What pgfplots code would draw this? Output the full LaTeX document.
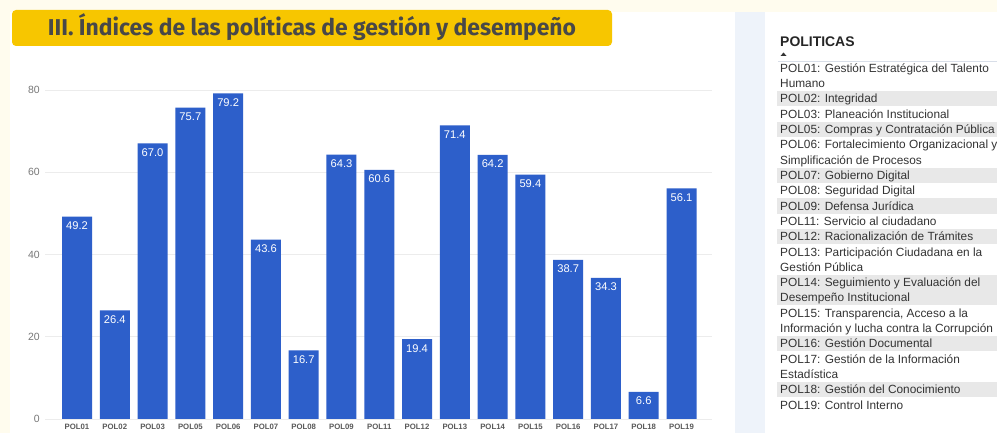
\documentclass[border=0pt]{standalone}
\usepackage{pgfplots}
\pgfplotsset{compat=1.18}
\usepackage{pgfplotstable}
\usepackage{fontspec}
\setmainfont{Liberation Sans}
\newfontfamily\titlefont{Fira Sans}

\definecolor{cream}{HTML}{FFFCEE}
\definecolor{strip}{HTML}{EEF3FA}
\definecolor{banner}{HTML}{F7C600}
\definecolor{titlegray}{HTML}{484848}
\definecolor{barblue}{HTML}{2D5FCA}
\definecolor{gridgray}{HTML}{ECECEC}
\definecolor{rowgray}{HTML}{E8E8E8}
\definecolor{tabtext}{HTML}{333333}
\definecolor{xlab}{HTML}{5A5A5A}
\definecolor{ylab}{HTML}{777777}
\definecolor{headline}{HTML}{D8DEE8}

% indices by policy
\pgfplotstableread{
idx pol val
0 POL01 49.2
1 POL02 26.4
2 POL03 67.0
3 POL05 75.7
4 POL06 79.2
5 POL07 43.6
6 POL08 16.7
7 POL09 64.3
8 POL11 60.6
9 POL12 19.4
10 POL13 71.4
11 POL14 64.2
12 POL15 59.4
13 POL16 38.7
14 POL17 34.3
15 POL18 6.6
16 POL19 56.1
}\poldata

\begin{document}
\begin{tikzpicture}
\begin{scope}[x=1bp,y=-1bp,shift={(0bp,433bp)}]
  % panels
  \fill[cream] (0,0) rectangle (997,433);
  \fill[white] (10,12) rectangle (735,433);
  \fill[strip] (735,12) rectangle (765,433);
  \fill[white] (765,12) rectangle (997,433);
  % title banner
  \fill[banner, rounded corners=4bp] (12,10) rectangle (612,46);
  \node[font=\titlefont\bfseries\fontsize{23}{26}\selectfont, text=titlegray, inner sep=0pt]
    at (312,27) {III. Índices de las políticas de gestión y desempeño};
  % table of policies
  \begin{scope}
    \clip (765,12) rectangle (997,433);
    \foreach \a/\b in {2/2, 4/4, 7/7, 9/9, 11/11, 14/15, 18/18, 21/21}
      \fill[rowgray] (777,68+15.32*\a-7.66) rectangle (997,68+15.32*\b+7.66);
    \node[anchor=base west, inner sep=0pt, font=\bfseries\fontsize{14}{16}\selectfont, text=black!85]
      at (780,47) {POLITICAS};
    \fill[tabtext] (780.5,56) -- (786.5,56) -- (783.5,52.5) -- cycle;
    \draw[headline, line width=0.8bp] (778,61) -- (997,61);
    \foreach \k/\t in {
        0/{POL01: Gestión Estratégica del Talento},
        1/{Humano},
        2/{POL02: Integridad},
        3/{POL03: Planeación Institucional},
        4/{POL05: Compras y Contratación Pública},
        5/{POL06: Fortalecimiento Organizacional y},
        6/{Simplificación de Procesos},
        7/{POL07: Gobierno Digital},
        8/{POL08: Seguridad Digital},
        9/{POL09: Defensa Jurídica},
        10/{POL11: Servicio al ciudadano},
        11/{POL12: Racionalización de Trámites},
        12/{POL13: Participación Ciudadana en la},
        13/{Gestión Pública},
        14/{POL14: Seguimiento y Evaluación del},
        15/{Desempeño Institucional},
        16/{POL15: Transparencia, Acceso a la},
        17/{Información y lucha contra la Corrupción},
        18/{POL16: Gestión Documental},
        19/{POL17: Gestión de la Información},
        20/{Estadística},
        21/{POL18: Gestión del Conocimiento},
        22/{POL19: Control Interno}}
      \node[anchor=base west, inner sep=0pt, font=\fontsize{11.9}{13}\selectfont, text=tabtext]
        at (780,68+15.32*\k+4.2) {\t};
  \end{scope}
\end{scope}

\begin{axis}[
  at={(45bp,14bp)}, anchor=south west,
  scale only axis, width=667bp, height=329bp,
  xmin=-0.847, xmax=16.807, ymin=0, ymax=80,
  ybar, bar width=30bp,
  axis line style={draw=none},
  major tick length=0pt,
  ytick={0,20,40,60,80},
  ymajorgrids, grid style={gridgray, line width=0.8bp},
  xtick=data, xticklabels from table={\poldata}{pol},
  xticklabel style={font=\bfseries\fontsize{7.8}{9}\selectfont, text=xlab, inner sep=0pt, yshift=-5bp},
  yticklabel style={font=\fontsize{10.5}{12}\selectfont, text=ylab, inner sep=0pt, xshift=-5bp},
  /pgf/number format/assume math mode=true,
  nodes near coords={\pgfmathprintnumber[fixed,fixed zerofill,precision=1]{\pgfplotspointmeta}},
  every node near coord/.append style={anchor=north, inner sep=0pt, yshift=-5bp,
    text=white, font=\fontsize{11.2}{13}\selectfont},
  clip=false,
]
\addplot[fill=barblue, draw=none] table[x=idx, y=val] {\poldata};
\end{axis}
\end{tikzpicture}
\end{document}
